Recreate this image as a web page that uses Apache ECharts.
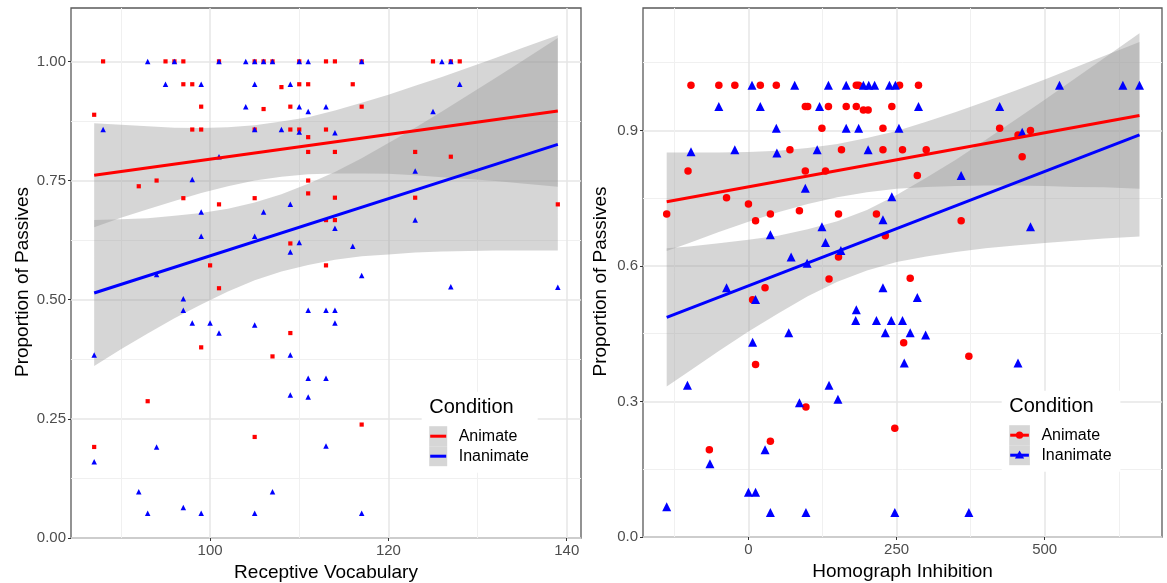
<!DOCTYPE html>
<html><head><meta charset="utf-8">
<script src="https://cdn.jsdelivr.net/npm/echarts@6/dist/echarts.min.js"></script>
<style>html,body{margin:0;padding:0;background:#fff}#c{width:1167px;height:583px}</style>
</head><body><div id="c"></div>
<script>
// ---------- Left panel: Receptive Vocabulary ----------
const vocabAnimate = [[88,1],[95,1],[96,1],[97,1],[101,1],[105,1],[106,1],[107,1],[110,1],[113,1],[114,1],[117,1],[125,1],[127,1],[128,1],
[97,0.952],[98,0.952],[108,0.946],[110,0.952],[111,0.952],[116,0.952],
[99,0.905],[106,0.9],[109,0.905],[117,0.905],
[98,0.857],[99,0.857],[105,0.857],[109,0.857],[110,0.857],[113,0.857],
[87,0.888],[111,0.841],[111,0.81],[114,0.81],[123,0.81],[127,0.8],
[92,0.738],[94,0.75],[111,0.75],[111,0.723],[97,0.713],[105,0.713],[114,0.714],[123,0.714],[101,0.7],[139,0.7],
[113,0.667],[114,0.667],[109,0.618],[100,0.572],[113,0.572],[101,0.524],
[109,0.43],[99,0.4],[107,0.381],[93,0.287],[117,0.238],[105,0.212],[87,0.191]];
const vocabInanimate = [[93,1],[96,1],[101,1],[104,1],[105,1],[106,1],[107,1],[110,1],[111,1],[117,1],[126,1],[127,1],
[95,0.952],[99,0.952],[105,0.952],[109,0.952],[128,0.952],
[104,0.905],[110,0.905],[111,0.895],[113,0.905],[125,0.895],
[88,0.857],[105,0.857],[108,0.857],[110,0.852],[114,0.85],
[101,0.8],[123,0.77],[98,0.752],[109,0.7],[99,0.684],[106,0.684],[123,0.667],[114,0.65],
[99,0.633],[105,0.633],[110,0.62],[116,0.612],[109,0.6],
[94,0.553],[117,0.551],[127,0.527],[139,0.526],[97,0.502],
[97,0.478],[111,0.478],[113,0.478],[114,0.478],[98,0.451],[100,0.451],[114,0.451],[105,0.447],[101,0.43],
[87,0.384],[109,0.384],[111,0.335],[113,0.335],[109,0.3],[111,0.296],
[94,0.191],[113,0.193],[87,0.16],[92,0.097],[107,0.097],[97,0.064],[93,0.052],[99,0.052],[105,0.052],[117,0.052]];
const vocabFitX = [87, 139];
const vocabFitAnimate = [0.761, 0.896];
const vocabFitInanimate = [0.514, 0.826];
const vocabBandX = [87,90,93,96,99,102,105,108,111,114,117,120,123,126,129,132,135,139];
const vocabAnimateLo = [0.652,0.672,0.690,0.707,0.724,0.738,0.750,0.758,0.763,0.765,0.765,0.764,0.761,0.757,0.753,0.749,0.744,0.737];
const vocabAnimateHi = [0.870,0.867,0.864,0.861,0.860,0.862,0.866,0.874,0.883,0.897,0.913,0.930,0.949,0.967,0.987,1.007,1.028,1.055];
const vocabInanimateLo = [0.361,0.396,0.429,0.461,0.490,0.517,0.541,0.559,0.573,0.584,0.591,0.595,0.599,0.601,0.602,0.603,0.603,0.603];
const vocabInanimateHi = [0.667,0.669,0.671,0.676,0.682,0.691,0.704,0.721,0.743,0.768,0.797,0.829,0.861,0.895,0.930,0.965,1.001,1.049];
const vocabXTicks = [100, 120, 140];
const vocabXMinor = [90, 110, 130];
const vocabYTicks = [0, 0.25, 0.5, 0.75, 1];
const vocabYMinor = [0.125, 0.375, 0.625, 0.875];

// ---------- Right panel: Homograph Inhibition ----------
const inhibAnimate = [[-97,1],[-50,1],[-23,1],[20,1],[47,1],[182,1],[186,1],[255,1],[287,1],
[96,0.953],[100,0.953],[135,0.953],[165,0.953],[182,0.953],[194,0.945],[202,0.945],[242,0.953],
[124,0.905],[227,0.905],[424,0.905],[476,0.9],[455,0.89],
[70,0.857],[157,0.857],[227,0.857],[260,0.857],[300,0.857],
[462,0.842],[-102,0.81],[96,0.81],[130,0.81],[285,0.8],
[-37,0.751],[0,0.737],[86,0.722],[-138,0.715],[37,0.715],[152,0.715],[216,0.715],[12,0.7],[359,0.7],
[231,0.667],[152,0.62],[136,0.571],[273,0.573],[28,0.552],[7,0.525],
[262,0.43],[372,0.4],[12,0.382],[97,0.288],[247,0.241],[37,0.212],[-66,0.193]];
const inhibInanimate = [[6,1],[78,1],[135,1],[165,1],[194,1],[203,1],[213,1],[238,1],[248,1],[525,1],[632,1],[660,1],
[-50,0.953],[20,0.953],[120,0.953],[287,0.953],[424,0.953],
[47,0.905],[165,0.905],[186,0.905],[254,0.905],[462,0.896],
[-97,0.853],[-23,0.857],[48,0.85],[116,0.857],[202,0.857],
[359,0.8],[96,0.772],[242,0.753],[227,0.702],[124,0.687],[476,0.687],[37,0.669],[130,0.652],[156,0.634],[72,0.62],[99,0.606],
[-37,0.552],[227,0.552],[285,0.53],[12,0.526],[182,0.503],
[181,0.479],[216,0.479],[241,0.479],[260,0.479],[68,0.452],[231,0.452],[273,0.452],[299,0.447],[7,0.431],
[263,0.385],[455,0.385],[-103,0.336],[136,0.336],[151,0.305],[86,0.297],
[28,0.193],[-65,0.162],[0,0.099],[12,0.099],[-138,0.067],[37,0.054],[97,0.054],[247,0.054],[372,0.054]];
const inhibFitX = [-138, 660];
const inhibFitAnimate = [0.742, 0.933];
const inhibFitInanimate = [0.486, 0.890];
const inhibBandX = [-138,-100,-50,0,50,100,150,200,250,300,350,400,450,500,550,600,660];
const inhibAnimateLo = [0.633,0.651,0.675,0.698,0.719,0.737,0.752,0.763,0.771,0.775,0.777,0.778,0.778,0.777,0.775,0.774,0.771];
const inhibAnimateHi = [0.851,0.851,0.851,0.852,0.855,0.861,0.870,0.883,0.899,0.919,0.941,0.964,0.988,1.013,1.039,1.065,1.096];
const inhibInanimateLo = [0.333,0.367,0.412,0.455,0.495,0.533,0.565,0.590,0.609,0.621,0.631,0.639,0.645,0.651,0.656,0.661,0.665];
const inhibInanimateHi = [0.639,0.643,0.650,0.658,0.667,0.681,0.699,0.724,0.757,0.795,0.835,0.879,0.923,0.968,1.014,1.060,1.115];
const inhibXTicks = [0, 250, 500];
const inhibXMinor = [-125, 125, 375, 625];
const inhibYTicks = [0, 0.3, 0.6, 0.9];
const inhibYMinor = [0.15, 0.45, 0.75, 1.05];

const conditions = ['Animate', 'Inanimate'];
const RED = '#FF0000', BLUE = '#0000FF';
const FONT = '"Liberation Sans", Arial, sans-serif';

function zip(xs, ys) { return xs.map((x, i) => [x, ys[i]]); }

function majorAxis(gridIndex, min, max, ticks, fmt, extra) {
  return Object.assign({
    type: 'value', gridIndex, min, max,
    axisLine: { show: false, onZero: false },
    axisTick: { show: true, length: 3, customValues: ticks, lineStyle: { color: '#333', width: 1 } },
    axisLabel: { customValues: ticks, formatter: fmt, color: '#4D4D4D', fontSize: 15, fontFamily: FONT, margin: 5 },
    splitLine: { show: true, lineStyle: { color: '#E6E6E6', width: 1.5 } }
  }, extra);
}
function minorAxis(gridIndex, min, max, ticks) {
  return {
    type: 'value', gridIndex, min, max,
    axisLine: { show: false, onZero: false },
    axisTick: { show: false, customValues: ticks },
    axisLabel: { show: false, customValues: ticks },
    splitLine: { show: true, lineStyle: { color: '#F0F0F0', width: 1 } }
  };
}
function band(xs, lo, hi, xi, yi) {
  return {
    type: 'custom', xAxisIndex: xi, yAxisIndex: yi, silent: true, clip: true,
    data: [[xs[0], lo[0]]],
    renderItem: function (params, api) {
      const pts = [];
      for (let i = 0; i < xs.length; i++) pts.push(api.coord([xs[i], hi[i]]));
      for (let i = xs.length - 1; i >= 0; i--) pts.push(api.coord([xs[i], lo[i]]));
      return { type: 'polygon', shape: { points: pts }, style: { fill: 'rgba(153,153,153,0.4)' } };
    }
  };
}
function fitLine(name, xs, ys, color, xi, yi) {
  return { type: 'line', name, xAxisIndex: xi, yAxisIndex: yi, data: zip(xs, ys), showSymbol: false,
    lineStyle: { color, width: 3 }, itemStyle: { color }, silent: true };
}
function pts(name, data, symbol, size, color, xi, yi) {
  return { type: 'scatter', name, xAxisIndex: xi, yAxisIndex: yi, data, symbol, symbolSize: size,
    itemStyle: { color, opacity: 1 }, silent: true };
}
const nameStyle = { color: '#000', fontSize: 19, fontFamily: FONT };
const yNameStyle = { color: '#000', fontSize: 19, fontFamily: FONT, padding: [0, 18, 0, 0] };

function legendGraphics(x, y, keyW, withMarkers) {
  const els = [];
  els.push({ type: 'rect', shape: { x: x, y: y, width: keyW + 98, height: 81 }, style: { fill: '#fff' }, z: 100 });
  els.push({ type: 'text', x: x + 7.5, y: y + 26, style: { text: 'Condition', font: '20px ' + FONT, fill: '#000', textVerticalAlign: 'bottom' }, z: 101 });
  const cols = [RED, BLUE];
  conditions.forEach((c, i) => {
    const ky = y + 34.5 + i * 20;
    els.push({ type: 'rect', shape: { x: x + 7.5, y: ky, width: keyW, height: 20 }, style: { fill: '#D6D6D6' }, z: 101 });
    els.push({ type: 'line', shape: { x1: x + 8.5, y1: ky + 10, x2: x + 6.5 + keyW, y2: ky + 10 }, style: { stroke: cols[i], lineWidth: 3 }, z: 102 });
    if (withMarkers) {
      const cx = x + 7.5 + keyW / 2, cy = ky + 10;
      if (i === 0) els.push({ type: 'circle', shape: { cx, cy, r: 3.6 }, style: { fill: RED }, z: 103 });
      else els.push({ type: 'polygon', shape: { points: [[cx, cy - 4.6], [cx - 4.6, cy + 3.4], [cx + 4.6, cy + 3.4]] }, style: { fill: BLUE }, z: 103 });
    }
    els.push({ type: 'text', x: x + keyW + 19, y: ky + 10, style: { text: c, font: '16px ' + FONT, fill: '#000', textVerticalAlign: 'middle' }, z: 101 });
  });
  return els;
}

const chart = echarts.init(document.getElementById('c'), null, { renderer: 'canvas' });
chart.setOption({
  animation: false,
  backgroundColor: '#fff',
  grid: [
    { left: 71, top: 8, right: 586, bottom: 45, show: true, borderColor: '#595959', borderWidth: 1.3, backgroundColor: 'transparent', outerBoundsMode: 'none', containLabel: false },
    { left: 643, top: 8, right: 5, bottom: 46, show: true, borderColor: '#595959', borderWidth: 1.3, backgroundColor: 'transparent', outerBoundsMode: 'none', containLabel: false }
  ],
  xAxis: [
    majorAxis(0, 84.4, 141.6, vocabXTicks, v => String(v), { name: 'Receptive Vocabulary', nameLocation: 'middle', nameGap: 21, nameTextStyle: nameStyle, position: 'bottom' }),
    majorAxis(1, -178, 698, inhibXTicks, v => String(v), { name: 'Homograph Inhibition', nameLocation: 'middle', nameGap: 21, nameTextStyle: nameStyle, position: 'bottom' }),
    minorAxis(0, 84.4, 141.6, vocabXMinor),
    minorAxis(1, -178, 698, inhibXMinor)
  ],
  yAxis: [
    majorAxis(0, 0, 1.112, vocabYTicks, v => v.toFixed(2), { name: 'Proportion of Passives', nameLocation: 'middle', nameGap: 39, nameTextStyle: yNameStyle, position: 'left' }),
    majorAxis(1, 0, 1.171, inhibYTicks, v => v.toFixed(1), { name: 'Proportion of Passives', nameLocation: 'middle', nameGap: 33, nameTextStyle: yNameStyle, position: 'left' }),
    minorAxis(0, 0, 1.112, vocabYMinor),
    minorAxis(1, 0, 1.171, inhibYMinor)
  ],
  series: [
    pts('Animate', vocabAnimate, 'rect', 4.2, RED, 0, 0),
    pts('Inanimate', vocabInanimate, 'triangle', 5.5, BLUE, 0, 0),
    band(vocabBandX, vocabAnimateLo, vocabAnimateHi, 0, 0),
    fitLine('Animate', vocabFitX, vocabFitAnimate, RED, 0, 0),
    band(vocabBandX, vocabInanimateLo, vocabInanimateHi, 0, 0),
    fitLine('Inanimate', vocabFitX, vocabFitInanimate, BLUE, 0, 0),

    pts('Animate', inhibAnimate, 'circle', 7.5, RED, 1, 1),
    pts('Inanimate', inhibInanimate, 'triangle', 9, BLUE, 1, 1),
    band(inhibBandX, inhibAnimateLo, inhibAnimateHi, 1, 1),
    fitLine('Animate', inhibFitX, inhibFitAnimate, RED, 1, 1),
    band(inhibBandX, inhibInanimateLo, inhibInanimateHi, 1, 1),
    fitLine('Inanimate', inhibFitX, inhibFitInanimate, BLUE, 1, 1)
  ],
  graphic: { elements: legendGraphics(421.7, 391.7, 18, false).concat(legendGraphics(1001.7, 390.7, 20.7, true)) }
});
</script></body></html>
